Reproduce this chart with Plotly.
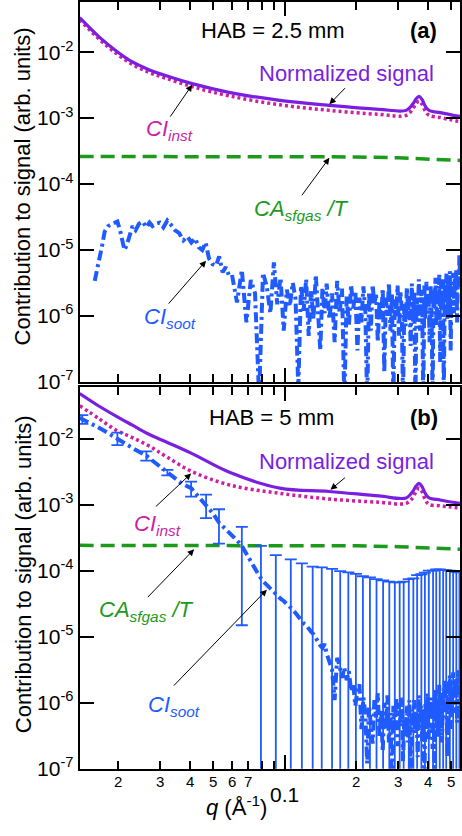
import numpy as np
import plotly.graph_objects as go

FONT = "Liberation Sans, Arial, Helvetica, sans-serif"
PURPLE = "#7a1fe0"
MAGENTA = "#cc1fa6"
GREEN = "#1c9a1c"
BLUE = "#1f5bff"

# ---- smooth curves (q in 1/Angstrom) ----
q_smooth = [0.01374, 0.01667, 0.01963, 0.0229, 0.0270, 0.0318, 0.0408, 0.0589,
            0.0953, 0.154, 0.249, 0.324, 0.345, 0.356, 0.367, 0.378, 0.39,
            0.404, 0.45, 0.50, 0.545]

norm_a = [0.0333, 0.01675, 0.01035, 0.0071, 0.00538, 0.00438, 0.00333, 0.00244,
          0.00186, 0.00156, 0.00136, 0.00131, 0.00163, 0.00195, 0.00213, 0.00190,
          0.00150, 0.00131, 0.00121, 0.00112, 0.00106]
inst_a = [0.0310, 0.0155, 0.0095, 0.0065, 0.0049, 0.0040, 0.0030, 0.00216,
          0.00159, 0.00131, 0.00114, 0.00110, 0.00138, 0.00166, 0.00181, 0.00161,
          0.00127, 0.00110, 0.00102, 0.00094, 0.00089]

norm_b = [0.049, 0.0311, 0.022, 0.0162, 0.0117, 0.0090, 0.0060, 0.0031,
          0.0018, 0.00160, 0.00137, 0.00128, 0.00160, 0.00193, 0.00212, 0.00188,
          0.00148, 0.00128, 0.00119, 0.00111, 0.00106]
inst_b = [0.032, 0.020, 0.0135, 0.0105, 0.0078, 0.0054, 0.0032, 0.0020,
          0.00150, 0.00123, 0.00110, 0.00106, 0.00128, 0.00160, 0.00180, 0.00158,
          0.00118, 0.00102, 0.00097, 0.00093, 0.00090]

q_gas = [0.01374, 0.05, 0.1, 0.15, 0.2, 0.3, 0.4, 0.5, 0.545]
gas_a = [2.62e-4, 2.62e-4, 2.62e-4, 2.61e-4, 2.58e-4, 2.50e-4, 2.40e-4, 2.32e-4, 2.28e-4]
gas_b = [2.44e-4, 2.44e-4, 2.44e-4, 2.43e-4, 2.40e-4, 2.33e-4, 2.24e-4, 2.17e-4, 2.13e-4]

# ---- soot contribution, low-q part ----
q_soot_a_low = [0.0159, 0.0163, 0.0167, 0.0171, 0.0175, 0.0181, 0.0187, 0.0193,
                0.0198, 0.0203, 0.0208, 0.0212, 0.0217, 0.0223, 0.0229, 0.0236,
                0.0244, 0.0253, 0.0262, 0.0270, 0.0278, 0.0288, 0.0298, 0.0309,
                0.0321, 0.0333, 0.0345, 0.0360, 0.0375, 0.0390, 0.0405, 0.0420,
                0.0435, 0.0450, 0.0465, 0.0480, 0.0497, 0.0514, 0.0530, 0.0548,
                0.0565, 0.0583]
soot_a_low = [3.4e-6, 5.0e-6, 7.3e-6, 1.2e-5, 1.9e-5, 2.3e-5, 2.45e-5, 2.6e-5,
              2.7e-5, 2.0e-5, 1.3e-5, 1.0e-5, 1.2e-5, 1.7e-5, 2.3e-5, 2.0e-5,
              2.5e-5, 2.7e-5, 2.2e-5, 2.6e-5, 2.3e-5, 2.5e-5, 2.6e-5, 2.2e-5,
              2.8e-5, 2.4e-5, 2.0e-5, 1.8e-5, 1.4e-5, 1.6e-5, 1.3e-5, 1.5e-5,
              1.1e-5, 1.0e-5, 1.3e-5, 7.5e-6, 6.1e-6, 5.8e-6, 8.0e-6, 4.6e-6,
              5.5e-6, 4.1e-6]

q_soot_b_low = [0.0137, 0.0141, 0.0150, 0.0160, 0.0175, 0.0187, 0.0198, 0.0210,
                0.0225, 0.0242, 0.0262, 0.0280, 0.0300, 0.0321, 0.0345, 0.0370,
                0.0404, 0.0435, 0.0467, 0.0500, 0.0529, 0.0565]
soot_b_low = [0.021, 0.0200, 0.0180, 0.0158, 0.0132, 0.0115, 0.0103, 0.0090,
              0.0076, 0.0065, 0.0056, 0.0046, 0.0038, 0.0031, 0.0025, 0.0021,
              0.0018, 0.0013, 0.0010, 7.4e-4, 5.4e-4, 4.3e-4]

# ---- soot contribution, high-q part (shared q bins) ----
q_noise = [0.060, 0.063, 0.066, 0.069, 0.072, 0.075, 0.078, 0.081, 0.084, 0.087,
           0.090, 0.093, 0.096, 0.099, 0.102, 0.105, 0.108, 0.111, 0.114, 0.117,
           0.120, 0.123, 0.126, 0.129, 0.132, 0.135, 0.138, 0.141, 0.144, 0.147,
           0.150, 0.154, 0.158, 0.162, 0.166, 0.170, 0.174, 0.178, 0.182, 0.186,
           0.190, 0.194, 0.198, 0.202, 0.206, 0.210, 0.214, 0.218, 0.222, 0.226,
           0.230, 0.234, 0.238, 0.242, 0.246, 0.250, 0.254, 0.258, 0.262, 0.266,
           0.270, 0.274, 0.278, 0.282, 0.286, 0.290, 0.294, 0.298, 0.302, 0.306,
           0.310, 0.314, 0.318, 0.322, 0.326, 0.330, 0.334, 0.338, 0.342, 0.346,
           0.350, 0.354, 0.358, 0.362, 0.366, 0.370, 0.374, 0.378, 0.382, 0.386,
           0.390, 0.394, 0.398, 0.402, 0.406, 0.410, 0.414, 0.418, 0.422, 0.426,
           0.430, 0.434, 0.438, 0.442, 0.446, 0.450, 0.454, 0.458, 0.462, 0.466,
           0.470, 0.474, 0.478, 0.482, 0.486, 0.490, 0.494, 0.498, 0.502, 0.506,
           0.510, 0.514, 0.518, 0.522, 0.526, 0.530, 0.534, 0.538, 0.542, 0.546]

soot_a_noise = [4.2e-6, 1.6e-6, 5.0e-6, 8e-7, 3.5e-6, 2.2e-6, 6e-8, 4.5e-6, 2.8e-6, 1.1e-6,
                6.5e-6, 1.5e-6, 3.8e-6, 6e-7, 2.5e-6, 1.4e-6, 3.2e-6, 1.8e-6, 8e-8, 2.9e-6,
                1.2e-6, 3.6e-6, 5e-7, 2.4e-6, 9e-7, 4.2e-6, 1.4e-6, 3e-7, 2.7e-6, 1.1e-6,
                3.1e-6, 9e-7, 2.2e-6, 4e-7, 3.4e-6, 1.1e-6, 2.6e-6, 5e-8, 2.0e-6, 7e-7,
                3.0e-6, 1.3e-6, 2.4e-6, 3e-7, 1.9e-6, 8e-7, 2.8e-6, 1.2e-6, 5e-8, 2.3e-6,
                6e-7, 3.0e-6, 1.5e-6, 2.1e-6, 4e-7, 1.7e-6, 9e-7, 2.6e-6, 1.4e-7, 1.9e-6,
                1.0e-6, 3.2e-6, 6e-7, 2.2e-6, 5e-8, 1.8e-6, 1.1e-6, 2.9e-6, 5e-7, 2.4e-6,
                1.3e-6, 5e-8, 1.6e-6, 7e-7, 2.7e-6, 1.2e-6, 2.0e-6, 3.5e-7, 3.1e-6, 8e-7,
                2.3e-6, 5e-8, 1.9e-6, 1.0e-6, 3.6e-6, 6e-7, 2.5e-6, 1.4e-6, 5e-8, 2.9e-6,
                9e-7, 3.3e-6, 1.6e-6, 2.2e-6, 4e-7, 3.0e-6, 1.1e-6, 5e-8, 2.6e-6, 1.3e-6,
                3.8e-6, 7e-7, 2.4e-6, 1.5e-6, 4.2e-6, 2e-7, 3.1e-6, 1.2e-6, 3.6e-6, 5e-8,
                2.8e-6, 1.6e-6, 4.4e-6, 9e-7, 3.4e-6, 1.8e-6, 4.8e-6, 3e-7, 3.0e-6, 2.0e-6,
                4.5e-6, 1.1e-6, 3.8e-6, 2.4e-6, 5.2e-6, 8e-7, 4.0e-6, 2.6e-6, 8.5e-6, 3.2e-6]

soot_b_noise = [3.6e-4, 2.9e-4, 2.4e-4, 1.8e-4, 1.4e-4, 1.1e-4, 8.5e-5, 7.0e-5, 6.1e-5, 5.3e-5,
                4.7e-5, 4.3e-5, 3.8e-5, 3.5e-5, 3.2e-5, 2.9e-5, 2.6e-5, 2.3e-5, 2.0e-5, 1.8e-5,
                1.6e-5, 1.5e-5, 1.3e-5, 1.2e-5, 1.1e-5, 9.5e-6, 8.6e-6, 7.4e-6, 6.8e-6, 7.8e-6,
                5.6e-6, 4.0e-6, 3.2e-6, 1.1e-6, 4.8e-6, 3.6e-6, 2.4e-6, 3.4e-6, 2.2e-6, 3.0e-6,
                1.5e-6, 1.9e-6, 9e-7, 1.6e-6, 1.9e-6, 4e-7, 1.2e-6, 7e-7, 1.2e-7, 9e-7,
                5e-7, 2.4e-7, 1.1e-6, 6e-7, 1.4e-6, 3e-7, 8e-7, 1.8e-7, 1.0e-6, 4e-7,
                1.3e-6, 2.5e-7, 7e-7, 5e-8, 9e-7, 4e-7, 1.2e-6, 2.2e-7, 1.0e-6, 5e-7,
                1.2e-6, 1.3e-7, 6e-7, 3e-7, 9e-7, 2.5e-7, 1.1e-6, 5e-8, 8e-7, 4e-7,
                1.1e-6, 3.5e-7, 7e-7, 1.5e-7, 1.3e-6, 5e-7, 9e-7, 2.6e-7, 8e-7, 5e-8,
                1.0e-6, 4e-7, 1.4e-6, 2.8e-7, 8e-7, 6e-7, 1.2e-6, 2e-7, 1.1e-6, 5e-8,
                1.6e-6, 4.5e-7, 1.0e-6, 3e-7, 1.9e-6, 6e-7, 1.2e-6, 2.5e-7, 1.5e-6, 8e-7,
                2.3e-6, 6e-7, 1.8e-6, 1.5e-7, 2.1e-6, 9e-7, 2.6e-6, 4e-7, 1.7e-6, 1.1e-6,
                2.9e-6, 7e-7, 2.2e-6, 1.2e-6, 2.4e-6, 5e-7, 3.1e-6, 1.4e-6, 2.6e-6, 1.8e-6]

# ---- error bars on the HAB = 5 mm soot curve ----
q_err = [0.0141, 0.0198, 0.0262, 0.0321, 0.0404, 0.0467, 0.0529, 0.066, 0.0794, 0.0917,
         0.106, 0.118, 0.131, 0.143, 0.158, 0.171, 0.185, 0.199, 0.213, 0.228,
         0.243, 0.259, 0.275, 0.290, 0.304, 0.316, 0.332, 0.347, 0.360, 0.375,
         0.388, 0.403, 0.420, 0.433, 0.448, 0.463, 0.477, 0.494, 0.510, 0.526, 0.542]
err_center = [0.0200, 0.0103, 0.0056, 0.0031, 0.0018, 0.00103, 5.6e-4, 2.4e-4, 7.6e-5, 4.5e-5,
              2.9e-5, 1.7e-5, 1.15e-5, 6.9e-6, 3e-6, 3e-6, 2e-6, 1e-6, 1e-6, 1e-6,
              1e-6, 1e-6, 1e-6, 1e-6, 1e-6, 1e-6, 1e-6, 1e-6, 1e-6, 1e-6,
              1e-6, 1e-6, 1e-6, 1e-6, 1e-6, 1e-6, 1e-6, 1e-6, 1e-6, 1e-6, 1e-6]
err_size = [0.003, 0.0022, 0.0009, 0.0003, 0.00046, 0.0004, 0.0003, 2.25e-4, 1.64e-4, 1.28e-4,
            1.21e-4, 1.13e-4, 1.05e-4, 1.06e-4, 1.04e-4, 9.6e-5, 9.3e-5, 8.9e-5, 8.2e-5, 7.9e-5,
            7.4e-5, 7.1e-5, 6.8e-5, 6.6e-5, 6.6e-5, 6.8e-5, 7.4e-5, 7.6e-5, 8.5e-5, 8.8e-5,
            9.3e-5, 1.0e-4, 1.0e-4, 1.04e-4, 1.04e-4, 1.03e-4, 1.02e-4, 1.0e-4, 9.8e-5, 9.6e-5, 9.4e-5]

# ---- axis ticks ----
x_minor_ticks = [0.02, 0.03, 0.04, 0.05, 0.06, 0.07, 0.08, 0.09, 0.2, 0.3, 0.4, 0.5]
x_minor_labels = ["2", "3", "4", "5", "6", "7", "", "", "2", "3", "4", "5"]
x_major_tick = 0.1
y_ticks = [1e-7, 1e-6, 1e-5, 1e-4, 1e-3, 1e-2]
y_labels = ["10<sup>-7</sup>", "10<sup>-6</sup>", "10<sup>-5</sup>",
            "10<sup>-4</sup>", "10<sup>-3</sup>", "10<sup>-2</sup>"]

W, H = 462, 836
X_RANGE = [np.log10(0.01374), np.log10(0.545)]
PANELS = {
    "a": dict(xa="x", ya="y", dom=[1 - 387 / H, 1 - 2 / H], yr=[-7, -1.239]),
    "b": dict(xa="x2", ya="y2", dom=[1 - 779 / H, 1 - 392 / H], yr=[-7, -1.209]),
}

fig = go.Figure()


def add_panel(p, norm, inst, gas, q_soot, soot):
    xa, ya = PANELS[p]["xa"], PANELS[p]["ya"]
    fig.add_trace(go.Scatter(x=q_gas, y=gas, mode="lines", xaxis=xa, yaxis=ya,
                             line=dict(color=GREEN, width=3.5, dash="14px,7px")))
    fig.add_trace(go.Scatter(x=q_soot, y=soot, mode="lines", xaxis=xa, yaxis=ya,
                             line=dict(color=BLUE, width=4, dash="10px,4px,3px,4px")))
    fig.add_trace(go.Scatter(x=q_smooth, y=inst, mode="lines", xaxis=xa, yaxis=ya,
                             line=dict(color=MAGENTA, width=3.5, dash="3px,3px", shape="spline")))
    fig.add_trace(go.Scatter(x=q_smooth, y=norm, mode="lines", xaxis=xa, yaxis=ya,
                             line=dict(color=PURPLE, width=3.2, shape="spline")))


add_panel("a", norm_a, inst_a, gas_a, q_soot_a_low + q_noise, soot_a_low + soot_a_noise)
add_panel("b", norm_b, inst_b, gas_b, q_soot_b_low + q_noise, soot_b_low + soot_b_noise)

fig.add_trace(go.Scatter(
    x=q_err, y=err_center, mode="markers", xaxis="x2", yaxis="y2",
    marker=dict(size=1, color="rgba(0,0,0,0)"),
    error_y=dict(type="data", array=err_size, symmetric=True, color=BLUE,
                 thickness=1.8, width=6)))


def x_axis(anchor):
    return dict(type="log", range=X_RANGE, domain=[80 / W, 1], anchor=anchor,
                showline=True, linecolor="black", linewidth=2, mirror="ticks",
                ticks="inside", tickvals=[x_major_tick], ticktext=[""], ticklen=14,
                tickwidth=1.6, tickcolor="black", showticklabels=False,
                showgrid=False, zeroline=False,
                minor=dict(tickvals=x_minor_ticks, ticks="inside", ticklen=8,
                           tickwidth=1.6, tickcolor="black", showgrid=False))


def y_axis(p):
    return dict(type="log", range=PANELS[p]["yr"], domain=PANELS[p]["dom"],
                anchor=PANELS[p]["xa"], showline=True, linecolor="black",
                linewidth=2, mirror="ticks", ticks="inside", tickvals=y_ticks,
                ticktext=y_labels, ticklen=14, tickwidth=1.6, tickcolor="black",
                tickfont=dict(family=FONT, size=21, color="black"),
                showgrid=False, zeroline=False)


ann = []


def text(p, q, v, s, color="black", size=22, anchor="left"):
    ann.append(dict(x=np.log10(q), y=np.log10(v), xref=PANELS[p]["xa"],
                    yref=PANELS[p]["ya"], text=s, showarrow=False, xanchor=anchor,
                    yanchor="middle", font=dict(family=FONT, size=size, color=color)))


def arrow(p, head, tail):
    ann.append(dict(x=np.log10(head[0]), y=np.log10(head[1]),
                    ax=np.log10(tail[0]), ay=np.log10(tail[1]),
                    xref=PANELS[p]["xa"], yref=PANELS[p]["ya"],
                    axref=PANELS[p]["xa"], ayref=PANELS[p]["ya"],
                    text="", showarrow=True, arrowhead=2, arrowsize=1.3,
                    arrowwidth=1, arrowcolor="black"))


CI_INST = "<i>CI<sub>inst</sub></i>"
CI_SOOT = "<i>CI<sub>soot</sub></i>"
CA_GAS = "<i>CA<sub>sfgas</sub> /T</i>"

# panel (a)
text("a", 0.0437, 0.0213, "HAB = 2.5 mm")
text("a", 0.330, 0.0213, "<b>(a)</b>")
text("a", 0.0764, 0.0047, "Normalized signal", PURPLE)
text("a", 0.0257, 6.6e-4, CI_INST, MAGENTA)
text("a", 0.0728, 4.1e-5, CA_GAS, GREEN)
text("a", 0.0252, 9.3e-7, CI_SOOT, BLUE)
arrow("a", (0.0408, 0.0032), (0.0327, 0.0010))
arrow("a", (0.154, 0.00162), (0.1816, 0.0030))
arrow("a", (0.154, 2.5e-4), (0.1167, 6.4e-5))
arrow("a", (0.0467, 6.9e-6), (0.0321, 1.46e-6))

# panel (b)
text("b", 0.0472, 0.0213, "HAB = 5 mm")
text("b", 0.330, 0.0213, "<b>(b)</b>")
text("b", 0.0764, 0.00454, "Normalized signal", PURPLE)
text("b", 0.0229, 5.0e-4, CI_INST, MAGENTA)
text("b", 0.0162, 2.45e-5, CA_GAS, GREEN)
text("b", 0.0262, 9.0e-7, CI_SOOT, BLUE)
arrow("b", (0.0404, 0.0030), (0.0283, 9.0e-4))
arrow("b", (0.1556, 0.00170), (0.1816, 0.00271))
arrow("b", (0.0416, 2.13e-4), (0.0262, 3.8e-5))
arrow("b", (0.0841, 5.2e-5), (0.0337, 1.73e-6))

# y titles
for yc in (1 - 189 / H, 1 - 582 / H):
    ann.append(dict(x=23 / W, y=yc, xref="paper", yref="paper",
                    text="Contribution to signal (arb. units)", textangle=-90,
                    showarrow=False, xanchor="center", yanchor="middle",
                    font=dict(family=FONT, size=22, color="black")))

# x tick labels of the lower panel
for v, s in zip(x_minor_ticks, x_minor_labels):
    if s:
        ann.append(dict(x=np.log10(v), y=1 - 792 / H, xref="x2", yref="paper",
                        text=s, showarrow=False, xanchor="center", yanchor="middle",
                        font=dict(family=FONT, size=15, color="black")))
ann.append(dict(x=np.log10(x_major_tick), y=1 - 805 / H, xref="x2", yref="paper",
                text="0.1", showarrow=False, xanchor="center", yanchor="middle",
                font=dict(family=FONT, size=21, color="black")))
ann.append(dict(x=205 / W, y=1 - 817 / H, xref="paper", yref="paper",
                text="<i>q</i> (Å<sup>-1</sup>)", showarrow=False, xanchor="left",
                yanchor="middle", font=dict(family=FONT, size=22, color="black")))

fig.update_layout(
    width=W, height=H, margin=dict(l=0, r=0, t=0, b=0),
    paper_bgcolor="white", plot_bgcolor="white", showlegend=False,
    font=dict(family=FONT, color="black"),
    xaxis=x_axis("y"), xaxis2=x_axis("y2"),
    yaxis=y_axis("a"), yaxis2=y_axis("b"),
    annotations=ann,
)

fig.write_html("out.html", config={"displayModeBar": False})
